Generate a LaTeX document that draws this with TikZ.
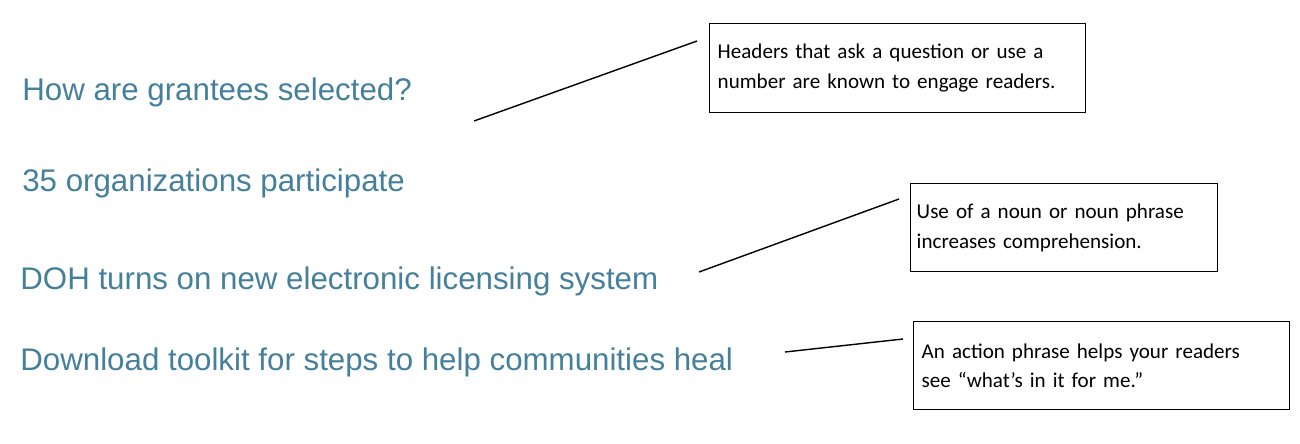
\documentclass[tikz,border=0pt]{standalone}
\usepackage{fontspec}
\setmainfont{Liberation Sans}
\newfontfamily\notefont{Carlito}
\definecolor{headblue}{HTML}{44809C}
\tikzset{head/.style = {anchor=west, inner sep=0pt, text=headblue, font=\fontsize{17.8}{20}\selectfont},
           note/.style = {draw, thick, anchor=north west, align=left, inner sep=3pt, font=\notefont\fontsize{12}{17}\selectfont}}
\begin{document}
\begin{tikzpicture}[x=0.02cm, y=-0.02cm]
    \useasboundingbox (0,0) rectangle (1300,443);
    \node[head] (q) at (22,92) {How are grantees selected?};
    \node[head] (n) at (22,183) {35 organizations participate};
    \node[head] (p) at (20,281) {DOH turns on new electronic licensing system};
    \node[head] (a) at (20,362) {Download toolkit for steps to help communities heal};
    \node[note, minimum width=7.52cm, minimum height=1.78cm, text width=7.2cm] (qn) at (709,23)
        {Headers that ask a question or use a\\number are known to engage readers.\\[4pt]};
    \node[note, minimum width=6.14cm, minimum height=1.76cm, text width=5.9cm] (pn) at (910,183)
        {Use of a noun or noun phrase\\increases comprehension.\\[4pt]};
    \node[note, minimum width=7.52cm, minimum height=1.76cm, text width=7.2cm] (an) at (913,321)
        {An action phrase helps your readers\\see “what’s in it for me.”\\[4pt]};
    \coordinate (q1) at (474,121); \coordinate (q2) at (697,41);
    \coordinate (p1) at (699,272); \coordinate (p2) at (899,199);
    \coordinate (a1) at (785,352); \coordinate (a2) at (903,339);
    \draw[thick] (q1) -- (q2);
    \draw[thick] (p1) -- (p2);
    \draw[thick] (a1) -- (a2);
  \end{tikzpicture}
\end{document}
